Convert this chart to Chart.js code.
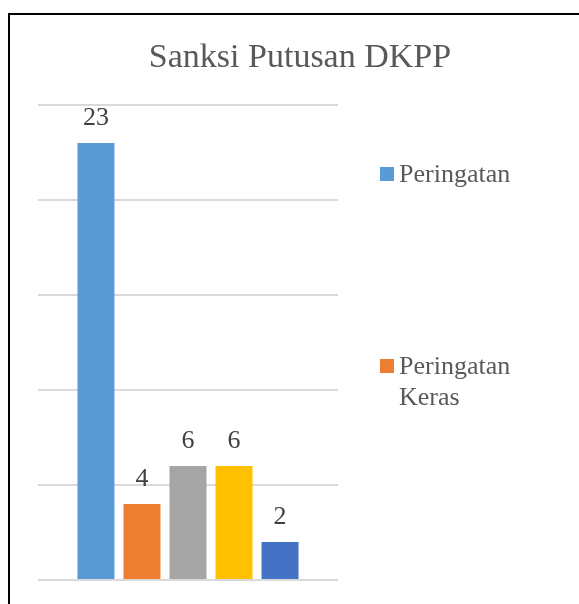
<!DOCTYPE html>
<html>
<head>
<meta charset="utf-8">
<script src="https://cdn.jsdelivr.net/npm/chart.js@4.4.1/dist/chart.umd.min.js"></script>
<style>
  body { margin: 0; background: #fff; }
  #wrap { position: relative; width: 579px; height: 604px; overflow: hidden; }
  #frame {
    position: absolute; left: 8px; top: 13px; width: 600px; height: 620px;
    border-left: 2px solid #000; border-top: 2px solid #000;
  }
  canvas { position: absolute; left: 0; top: 0; }
</style>
</head>
<body>
<div id="wrap">
  <div id="frame"></div>
  <canvas id="myChart" width="579" height="604"></canvas>
</div>
<script>
const chartTitle = "Sanksi Putusan DKPP";
const categories = [""];
const seriesNames = [
  "Peringatan",
  "Peringatan Keras",
  "Pemberhentian Sementara",
  "Pemberhentian Tetap",
  "Pemberhentian dari Jabatan",
];
const seriesValues = [23, 4, 6, 6, 2];
const seriesColors = ["#5B9BD5", "#ED7D31", "#A5A5A5", "#FFC000", "#4472C4"];
// only the first two entries fit in the legend of the original picture
const legendShown = 2;

const serif = "'Liberation Serif', 'Times New Roman', serif";

// title, value labels and the cut-off legend
const decorations = {
  id: "decorations",
  afterDatasetsDraw(chart) {
    const ctx = chart.ctx;
    ctx.save();

    ctx.fillStyle = "#595959";
    ctx.font = "34px " + serif;
    ctx.textAlign = "center";
    ctx.textBaseline = "alphabetic";
    ctx.fillText(chartTitle, 300, 67);

    ctx.fillStyle = "#404040";
    ctx.font = "26px " + serif;
    chart.data.datasets.forEach((ds, i) => {
      const bar = chart.getDatasetMeta(i).data[0];
      ctx.fillText(String(ds.data[0]), bar.x, bar.y - 18);
    });

    ctx.textAlign = "left";
    const rows = [182, 374];
    for (let i = 0; i < legendShown; i++) {
      const ds = chart.data.datasets[i];
      ctx.fillStyle = ds.backgroundColor;
      ctx.fillRect(380, rows[i] - 15, 14, 14);
      ctx.fillStyle = "#595959";
      const words = ds.label.split(" ");
      words.forEach((w, j) => {
        ctx.fillText(w, 399, rows[i] + j * 31);
      });
    }
    ctx.restore();
  },
};

new Chart(document.getElementById("myChart"), {
  type: "bar",
  data: {
    labels: categories,
    datasets: seriesNames.map((name, i) => ({
      label: name,
      data: [seriesValues[i]],
      backgroundColor: seriesColors[i],
      categoryPercentage: 0.767,
      barPercentage: 0.804,
    })),
  },
  options: {
    responsive: false,
    animation: false,
    layout: {
      padding: { left: 38, top: 105, right: 241, bottom: 24 },
    },
    scales: {
      x: {
        display: false,
      },
      y: {
        min: 0,
        max: 25,
        ticks: { display: false, stepSize: 5 },
        border: { display: false },
        grid: {
          color: "#D9D9D9",
          lineWidth: 2,
          drawTicks: false,
        },
      },
    },
    plugins: {
      legend: { display: false },
      title: { display: false },
      tooltip: { enabled: false },
    },
  },
  plugins: [decorations],
});
</script>
</body>
</html>
